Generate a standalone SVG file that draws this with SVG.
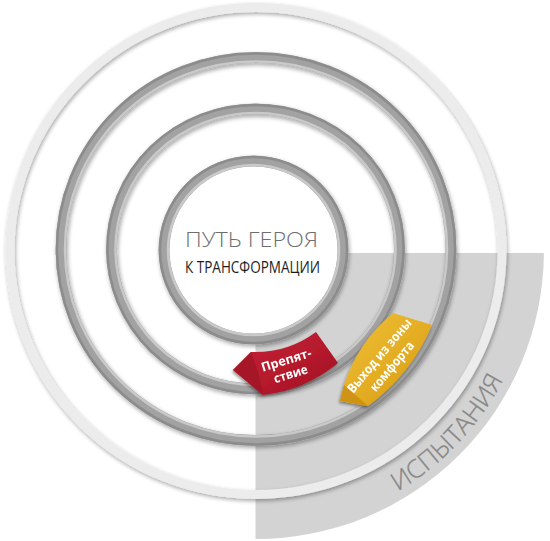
<svg xmlns="http://www.w3.org/2000/svg" width="550" height="541" viewBox="0 0 550 541">
  <defs>
    <filter id="shadow" x="-10%" y="-10%" width="120%" height="120%">
      <feGaussianBlur in="SourceAlpha" stdDeviation="2.2"/>
      <feOffset dx="0.5" dy="1.5" result="b"/>
      <feComponentTransfer><feFuncA type="linear" slope="0.35"/></feComponentTransfer>
      <feMerge><feMergeNode/><feMergeNode in="SourceGraphic"/></feMerge>
    </filter>
    <filter id="lshadow" x="-20%" y="-20%" width="140%" height="140%">
      <feGaussianBlur in="SourceAlpha" stdDeviation="1.6"/>
      <feOffset dx="-1" dy="1.5" result="b"/>
      <feComponentTransfer><feFuncA type="linear" slope="0.4"/></feComponentTransfer>
      <feMerge><feMergeNode/><feMergeNode in="SourceGraphic"/></feMerge>
    </filter>
    <linearGradient id="redG" x1="0" y1="0" x2="1" y2="1">
      <stop offset="0" stop-color="#c72437"/>
      <stop offset="0.6" stop-color="#b3192b"/>
      <stop offset="1" stop-color="#9c1222"/>
    </linearGradient>
    <linearGradient id="yelG" x1="0" y1="0" x2="1" y2="1">
      <stop offset="0" stop-color="#f0c23a"/>
      <stop offset="0.6" stop-color="#e2aa20"/>
      <stop offset="1" stop-color="#cf9512"/>
    </linearGradient>
    <path id="trialsArc" d="M397.6 491.4 A279 279 0 0 0 518.2 346.4"/>
    <style>
      .ring { fill: none; stroke: #a2a2a2; stroke-width: 11; }
      .ringHi { fill: none; stroke: #c9c9c9; stroke-width: 2.5; }
      .ringLo { fill: none; stroke: #8c8c8c; stroke-width: 2.5; }
      .lbl { font-family: "Open Sans", "Noto Sans", "Liberation Sans", sans-serif; font-weight: 700; fill: #ffffff; text-anchor: middle; }
    </style>
  </defs>

  <rect width="550" height="541" fill="#ffffff"/>

  <g id="trials-zone">
    <path d="M255.5 253 L543.9 253 A288 288 0 0 1 255.5 539 Z" fill="#d3d3d3"/>
  </g>

  <g id="outer-ring" filter="url(#shadow)">
    <ellipse cx="256" cy="251" rx="246" ry="243.5" fill="none" stroke="#ececec" stroke-width="9"/>
  </g>

  <g id="ring-3" filter="url(#shadow)">
    <ellipse class="ring" cx="256" cy="249" rx="195" ry="191.5"/>
    <ellipse class="ringLo" cx="256" cy="249" rx="199" ry="195.5"/>
    <ellipse class="ringHi" cx="256" cy="249" rx="191" ry="187.5"/>
  </g>

  <g id="ring-2" filter="url(#shadow)">
    <ellipse class="ring" cx="255.5" cy="249" rx="144" ry="140"/>
    <ellipse class="ringLo" cx="255.5" cy="249" rx="148" ry="144"/>
    <ellipse class="ringHi" cx="255.5" cy="249" rx="140" ry="136"/>
  </g>

  <g id="ring-1" filter="url(#shadow)">
    <ellipse cx="253.5" cy="250" rx="89.5" ry="89" fill="#ffffff" stroke="#a2a2a2" stroke-width="11"/>
    <ellipse class="ringLo" cx="253.5" cy="250" rx="93.5" ry="93"/>
    <ellipse class="ringHi" cx="253.5" cy="250" rx="85.5" ry="85"/>
  </g>

  <g id="title">
    <text x="251.5" y="247" font-family="'Open Sans', 'Noto Sans', 'Liberation Sans', sans-serif" font-weight="300" font-size="20.5" fill="#6e6e6e" text-anchor="middle" textLength="133" lengthAdjust="spacingAndGlyphs">ПУТЬ ГЕРОЯ</text>
    <text x="252.5" y="273" font-family="'Open Sans', 'Noto Sans', 'Liberation Sans', sans-serif" font-weight="400" font-size="16.5" fill="#1e1e1e" text-anchor="middle" textLength="135" lengthAdjust="spacingAndGlyphs">К ТРАНСФОРМАЦИИ</text>
  </g>

  <g id="label-obstacle" filter="url(#lshadow)">
    <path d="M251 352 A102 102 0 0 0 316 332 L338 363 A143 143 0 0 1 263 395 L233 370 Z" fill="url(#redG)"/>
    <path d="M251 352 L233 370 L263 395 L258 372 Z" fill="#a01425" opacity="0.8"/>
    <g transform="translate(288.5 367) rotate(-17)">
      <text class="lbl" x="0" y="-3" font-size="12.5" textLength="52" lengthAdjust="spacingAndGlyphs">Препят-</text>
      <text class="lbl" x="0" y="11.6" font-size="12.5" textLength="35" lengthAdjust="spacingAndGlyphs">ствие</text>
    </g>
  </g>

  <g id="label-comfort" filter="url(#lshadow)">
    <path d="M393 313 L432 325 A191 191 0 0 1 368 406 L340 401 L344 385 A155 155 0 0 1 393 313 Z" fill="url(#yelG)"/>
    <path d="M344 385 L340 401 L368 406 L352 392 Z" fill="#c98d0e" opacity="0.8"/>
    <g transform="translate(385.5 361) rotate(-50)">
      <text class="lbl" x="0" y="-3.6" font-size="13" textLength="92" lengthAdjust="spacingAndGlyphs">Выход из зоны</text>
      <text class="lbl" x="0" y="12.8" font-size="13" textLength="61" lengthAdjust="spacingAndGlyphs">комфорта</text>
    </g>
  </g>

  <g id="label-trials">
    <text font-family="'Open Sans', 'Noto Sans', 'Liberation Sans', sans-serif" font-weight="300" font-size="25" fill="#858585" stroke="#8a8a8a" stroke-width="0.3"><textPath href="#trialsArc" textLength="156" lengthAdjust="spacingAndGlyphs">ИСПЫТАНИЯ</textPath></text>
  </g>
</svg>
